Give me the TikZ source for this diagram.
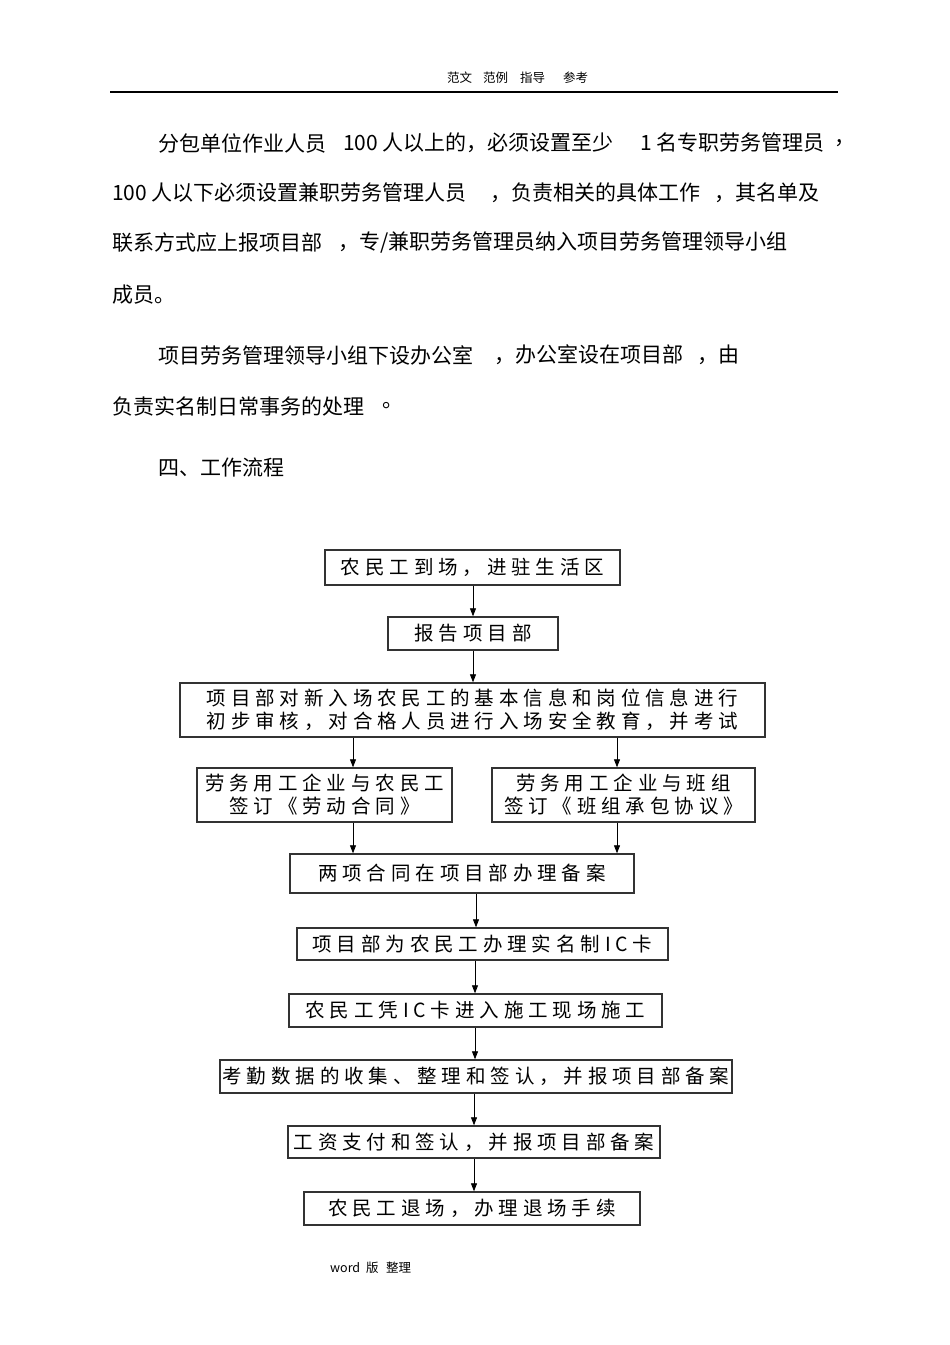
\documentclass[tikz,border=0pt]{standalone}
\usepackage{fontspec}
\setmainfont{Noto Sans CJK SC}
\newfontfamily\cjk{Noto Sans CJK SC}
\newfontfamily\flow{Noto Sans CJK SC}[LetterSpace=25]
\usetikzlibrary{arrows.meta}
\begin{document}
\begin{tikzpicture}[x=1pt,y=-1pt,
  para/.style={anchor=west,inner sep=0pt,font=\cjk\fontsize{21}{22}\selectfont},
  small/.style={anchor=west,inner sep=0pt,font=\cjk\fontsize{12.5}{15}\selectfont},
  box/.style={draw=black!80,line width=1.4pt,inner sep=0pt,align=center,font=\flow\fontsize{19.5}{22}\selectfont},
  arr/.style={draw=black,line width=0.8pt,-{Triangle[length=8pt,width=6pt]}}]
\useasboundingbox (0,0) rectangle (950,1345);
% header
\node[small] (hd1) at (447,78) {范文};
\node[small] (hd2) at (483,78) {范例};
\node[small] (hd3) at (520,78) {指导};
\node[small] (hd4) at (563,78) {参考};
\coordinate (rl) at (110,92);
\coordinate (rr) at (838,92);
\draw[line width=1.1pt] (rl) -- (rr);
% paragraphs
\node[para] (p1a) at (158,143) {分包单位作业人员};
\node[para] (p1b) at (343,143) {100 人以上的，必须设置至少};
\node[para] (p1c) at (640,143) {1 名专职劳务管理员};
\node[para] (p1d) at (834,143) {，};
\node[para] (p2a) at (112,193) {100 人以下必须设置兼职劳务管理人员};
\node[para] (p2b) at (490,193) {，负责相关的具体工作};
\node[para] (p2c) at (714,193) {，其名单及};
\node[para] (p3a) at (112,243) {联系方式应上报项目部};
\node[para] (p3b) at (338,243) {，专/兼职劳务管理员纳入项目劳务管理领导小组};
\node[para] (p4) at (112,295) {成员。};
\node[para] (p5a) at (158,355) {项目劳务管理领导小组下设办公室};
\node[para] (p5b) at (494,355) {，办公室设在项目部};
\node[para] (p5c) at (697,355) {，由};
\node[para] (p6a) at (112,406) {负责实名制日常事务的处理};
\node[para] (p6b) at (382,406) {。};
\node[para] (p7) at (158,468) {四、工作流程};
% flowchart
\node[box,minimum width=295,minimum height=35] (b1) at (472.5,567.5) {农民工到场，进驻生活区};
\node[box,minimum width=170,minimum height=33] (b2) at (473,633.5) {报告项目部};
\node[box,minimum width=585,minimum height=54] (b3) at (472.5,710) {项目部对新入场农民工的基本信息和岗位信息进行\\[1pt]初步审核，对合格人员进行入场安全教育，并考试};
\node[box,minimum width=255,minimum height=54] (b4l) at (324.5,795) {劳务用工企业与农民工\\[1pt]签订《劳动合同》};
\node[box,minimum width=263,minimum height=54] (b4r) at (623.5,795) {劳务用工企业与班组\\[1pt]签订《班组承包协议》};
\node[box,minimum width=344,minimum height=39] (b5) at (462,873.5) {两项合同在项目部办理备案};
\node[box,minimum width=371,minimum height=32] (b6) at (482.5,944) {项目部为农民工办理实名制IC卡};
\node[box,minimum width=373,minimum height=33] (b7) at (475.5,1010.5) {农民工凭IC卡进入施工现场施工};
\node[box,minimum width=512,minimum height=33] (b8) at (476,1076.5) {考勤数据的收集、整理和签认，并报项目部备案};
\node[box,minimum width=372,minimum height=32] (b9) at (474,1142) {工资支付和签认，并报项目部备案};
\node[box,minimum width=336,minimum height=33] (b10) at (472,1208.5) {农民工退场，办理退场手续};
\coordinate (xa) at (473,0);
\coordinate (xl) at (353,0);
\coordinate (xr) at (617,0);
\coordinate (xb) at (476,0);
\coordinate (xc) at (475,0);
\coordinate (xd) at (474,0);
\draw[arr] (b1.south -| xa) -- (b2.north -| xa);
\draw[arr] (b2.south -| xa) -- (b3.north -| xa);
\draw[arr] (b3.south -| xl) -- (b4l.north -| xl);
\draw[arr] (b3.south -| xr) -- (b4r.north -| xr);
\draw[arr] (b4l.south -| xl) -- (b5.north -| xl);
\draw[arr] (b4r.south -| xr) -- (b5.north -| xr);
\draw[arr] (b5.south -| xb) -- (b6.north -| xb);
\draw[arr] (b6.south -| xc) -- (b7.north -| xc);
\draw[arr] (b7.south -| xc) -- (b8.north -| xc);
\draw[arr] (b8.south -| xd) -- (b9.north -| xd);
\draw[arr] (b9.south -| xd) -- (b10.north -| xd);
% footer
\node[small] (ft1) at (330,1268) {word};
\node[small] (ft2) at (366,1268) {版};
\node[small] (ft3) at (386,1268) {整理};
\end{tikzpicture}
\end{document}
